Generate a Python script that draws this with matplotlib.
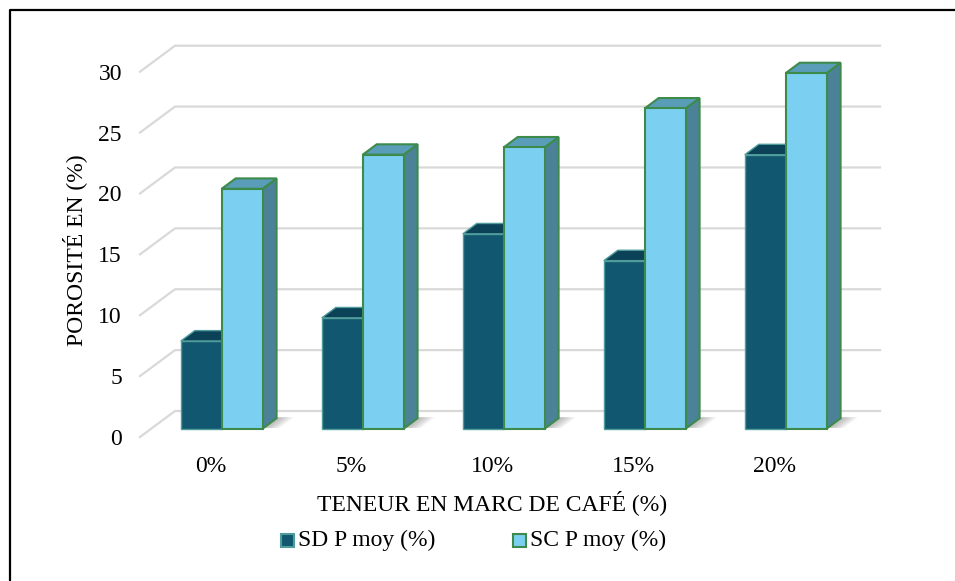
import matplotlib
matplotlib.use("Agg")
import matplotlib.pyplot as plt
from matplotlib.patches import Polygon, Rectangle
from matplotlib.lines import Line2D

# Porosity data per coffee-grounds content
categories = ["0%", "5%", "10%", "15%", "20%"]
sd_values = [7.2, 9.1, 16.0, 13.8, 22.5]
sc_values = [19.7, 22.5, 23.1, 26.3, 29.2]
series_names = ["SD P moy (%)", "SC P moy (%)"]
y_ticks = [0, 5, 10, 15, 20, 25, 30]

FONT = "Liberation Serif"
FS = 17

W, H = 955, 581
fig = plt.figure(figsize=(W / 100, H / 100), dpi=100)

# plot area (front plane) in pixels
left, right, bottom, top = 140, 845, 437, 71.7
ax = fig.add_axes([left / W, 1 - bottom / H, (right - left) / W, (bottom - top) / H])
ax.set_xlim(-0.5, len(categories) - 0.5)
ax.set_ylim(0, 30)
for s in ax.spines.values():
    s.set_visible(False)
ax.patch.set_alpha(0)

# oblique depth vector in data units
px_per_unit = (bottom - top) / 30.0
DX = 35.0 / ((right - left) / len(categories))
DY = 26.0 / px_per_unit


def P(x, y, d):
    return (x + d * DX, y + d * DY)


# walls: back gridlines and left slanted lines
x_lo, x_hi = -0.5, len(categories) - 0.5
for v in y_ticks:
    ax.add_line(Line2D([x_lo, x_lo + DX, x_hi + DX], [v, v + DY, v + DY],
                       color="#d9d9d9", lw=1.6, zorder=1, clip_on=False))

ax.set_yticks(y_ticks)
ax.set_yticklabels([str(v) for v in y_ticks], fontfamily=FONT, fontsize=FS)
ax.set_xticks(range(len(categories)))
ax.set_xticklabels(categories, fontfamily=FONT, fontsize=FS)
ax.tick_params(axis="y", length=0, pad=13)
ax.tick_params(axis="x", length=0, pad=14)

bw = 0.29
d0, d1 = 0.32, 0.72

sd_style = dict(front="#11576f", top="#0b4257", side="#0c4a60", edge="#4f9c9b", lw=1.0)
sc_style = dict(front="#7bcff0", top="#5a9db9", side="#4b8298", edge="#3d8b4b", lw=1.5)


def draw_bar(x0, x1, v, st, z):
    front = [P(x0, 0, d0), P(x1, 0, d0), P(x1, v, d0), P(x0, v, d0)]
    topf = [P(x0, v, d0), P(x1, v, d0), P(x1, v, d1), P(x0, v, d1)]
    side = [P(x1, 0, d0), P(x1, 0, d1), P(x1, v, d1), P(x1, v, d0)]
    for poly, c in ((side, st["side"]), (topf, st["top"]), (front, st["front"])):
        ax.add_patch(Polygon(poly, closed=True, facecolor=c, edgecolor=st["edge"],
                             lw=st["lw"], joinstyle="miter", zorder=z, clip_on=False))


for i, (sd, sc) in enumerate(zip(sd_values, sc_values)):
    # soft floor shadow under the pair of columns
    for k in range(7):
        grow = 0.014 * k
        sx0, sx1 = i - bw - 0.02 + grow * 0.4, i + bw + 0.03 + grow
        sh = [P(sx0, 0, d0 + 0.03), P(sx1, 0, d0 + 0.03), P(sx1, 0, d1 + 0.04), P(sx0, 0, d1 + 0.04)]
        ax.add_patch(Polygon(sh, closed=True, facecolor="#404040", edgecolor="none",
                             alpha=0.05, zorder=2, clip_on=False))
    draw_bar(i - bw, i, sd, sd_style, 3 + 2 * i)
    draw_bar(i, i + bw, sc, sc_style, 4 + 2 * i)

# axis titles
fig.text(492 / W, 1 - 503 / H, "TENEUR EN MARC DE CAFÉ (%)",
         ha="center", va="center", fontfamily=FONT, fontsize=FS)
fig.text(75 / W, 1 - 250 / H, "POROSITÉ EN (%)", rotation=90,
         ha="center", va="center", fontfamily=FONT, fontsize=FS)

# legend
leg_y = 540.5
for (sx, tx, name, st) in ((281, 298, series_names[0], sd_style),
                           (513, 530, series_names[1], sc_style)):
    fig.add_artist(Rectangle((sx / W, 1 - (leg_y + 6.3) / H), 12.5 / W, 12.5 / H,
                             transform=fig.transFigure, facecolor=st["front"],
                             edgecolor=st["edge"], lw=1.5))
    fig.text(tx / W, 1 - leg_y / H, name, ha="left", va="center",
             fontfamily=FONT, fontsize=FS)

# outer frame (left and top edges)
fig.add_artist(Line2D([10 / W, 10 / W, 1.0], [0.0, 1 - 10 / H, 1 - 10 / H],
                      transform=fig.transFigure, color="black", lw=1.6))

fig.savefig("out.png", dpi=100)
